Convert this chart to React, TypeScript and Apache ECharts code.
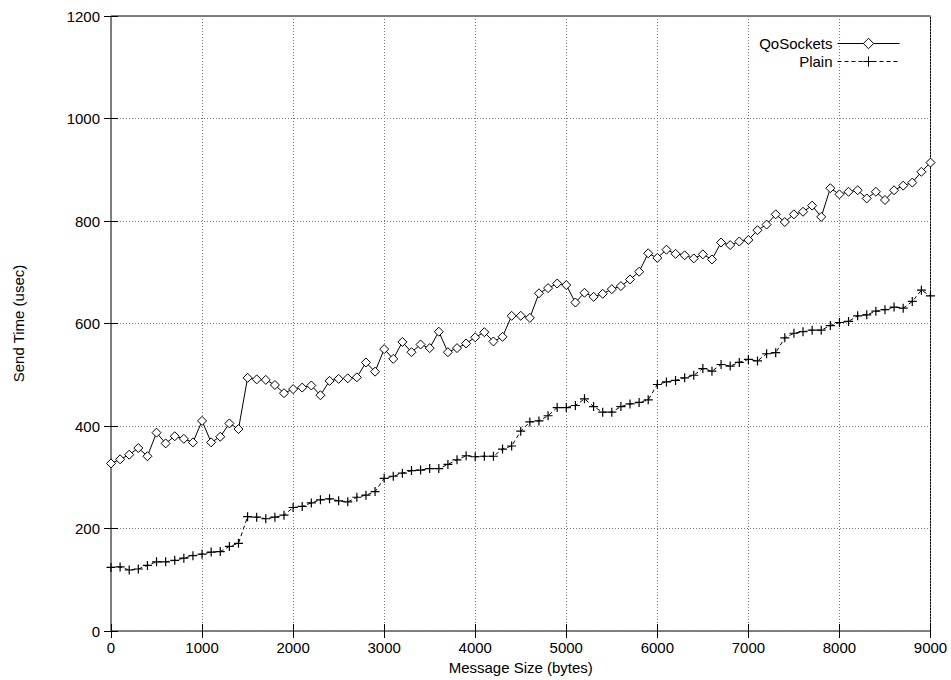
import React, { useEffect, useRef } from "react";
import * as echarts from "echarts";

const sizes = [
  0, 100, 200, 300, 400, 500, 600, 700, 800, 900,
  1000, 1100, 1200, 1300, 1400, 1500, 1600, 1700, 1800, 1900,
  2000, 2100, 2200, 2300, 2400, 2500, 2600, 2700, 2800, 2900,
  3000, 3100, 3200, 3300, 3400, 3500, 3600, 3700, 3800, 3900,
  4000, 4100, 4200, 4300, 4400, 4500, 4600, 4700, 4800, 4900,
  5000, 5100, 5200, 5300, 5400, 5500, 5600, 5700, 5800, 5900,
  6000, 6100, 6200, 6300, 6400, 6500, 6600, 6700, 6800, 6900,
  7000, 7100, 7200, 7300, 7400, 7500, 7600, 7700, 7800, 7900,
  8000, 8100, 8200, 8300, 8400, 8500, 8600, 8700, 8800, 8900,
  9000,
];

const qosockets = [
  327, 335, 344, 357, 341, 387, 366, 380, 375, 368,
  410, 368, 379, 405, 394, 494, 491, 490, 480, 464,
  472, 475, 479, 460, 488, 492, 493, 495, 524, 506,
  550, 531, 564, 544, 559, 552, 584, 544, 552, 561,
  573, 583, 565, 574, 615, 615, 611, 659, 669, 678,
  675, 641, 660, 652, 658, 667, 673, 686, 701, 737,
  728, 744, 736, 733, 727, 735, 725, 758, 753, 760,
  763, 782, 793, 813, 798, 813, 818, 830, 808, 864,
  852, 857, 860, 844, 857, 841, 860, 869, 875, 896,
  914,
];

const plain = [
  124, 125, 119, 121, 128, 135, 135, 138, 142, 147,
  150, 154, 155, 165, 171, 223, 222, 219, 222, 226,
  241, 243, 250, 256, 258, 254, 252, 261, 265, 272,
  298, 302, 308, 313, 314, 317, 317, 325, 334, 342,
  340, 341, 341, 355, 361, 390, 408, 410, 420, 436,
  436, 440, 453, 438, 427, 427, 438, 443, 446, 451,
  481, 486, 489, 494, 499, 512, 507, 520, 517, 524,
  530, 527, 541, 543, 572, 581, 584, 587, 587, 596,
  602, 604, 615, 617, 624, 627, 632, 630, 643, 665,
  654,
];

const FONT = "'Liberation Sans', Arial, Helvetica, sans-serif";
const FS = 15;
const PLUS = "path://M0,5L10,5M5,0L5,10";
const DIAMOND = "path://M5,0L10,5L5,10L0,5Z";

export default function App() {
  const ref = useRef<HTMLDivElement>(null);
  useEffect(() => {
    if (!ref.current) return;
    const chart = echarts.init(ref.current, null, { renderer: "svg" });
    const gridLine = { show: true, lineStyle: { color: "#777", type: [1, 2] as any, width: 1 } };
    const tick = { show: true, inside: true, length: 7, lineStyle: { color: "#000" } };
    const fmt = (v: number) => String(v);
    const legendBase = {
      right: 46,
      align: "right",
      itemWidth: 62,
      itemHeight: 13,
      itemGap: 0,
      lineStyle: { width: 1 },
      itemStyle: { borderWidth: 1 },
      textStyle: { fontFamily: FONT, fontSize: FS, color: "#000" },
    };
    chart.setOption({
      animation: false,
      backgroundColor: "#fff",
      textStyle: { fontFamily: FONT },
      grid: {
        left: 111,
        right: 20.5,
        top: 16,
        bottom: 49,
        show: true,
        borderColor: "#000",
        borderWidth: 1,
        backgroundColor: "transparent",
      },
      legend: [
        { ...legendBase, data: ["QoSockets"], top: 31 },
        { ...legendBase, data: ["Plain"], top: 49 },
      ],
      xAxis: [
        {
          type: "value",
          min: 0,
          max: 9000,
          interval: 1000,
          name: "Message Size (bytes)",
          nameLocation: "middle",
          nameGap: 25,
          nameTextStyle: { fontFamily: FONT, fontSize: FS, color: "#000" },
          axisLine: { show: false },
          axisTick: tick,
          axisLabel: { fontFamily: FONT, fontSize: FS, color: "#000", margin: 9, formatter: fmt },
          splitLine: gridLine,
        },
        {
          type: "value",
          position: "top",
          min: 0,
          max: 9000,
          interval: 1000,
          axisLine: { show: false },
          axisTick: tick,
          axisLabel: { show: false },
          splitLine: { show: false },
        },
      ],
      yAxis: [
        {
          type: "value",
          min: 0,
          max: 1200,
          interval: 200,
          name: "Send Time (usec)",
          nameLocation: "middle",
          nameGap: 85,
          nameTextStyle: { fontFamily: FONT, fontSize: FS, color: "#000" },
          axisLine: { show: false },
          axisTick: tick,
          axisLabel: { fontFamily: FONT, fontSize: FS, color: "#000", margin: 11, formatter: fmt },
          splitLine: gridLine,
        },
        {
          type: "value",
          position: "right",
          min: 0,
          max: 1200,
          interval: 200,
          axisLine: { show: false },
          axisTick: tick,
          axisLabel: { show: false },
          splitLine: { show: false },
        },
      ],
      series: [
        {
          name: "QoSockets",
          type: "line",
          data: sizes.map((s, i) => [s, qosockets[i]]),
          symbol: DIAMOND,
          symbolSize: 9,
          itemStyle: { color: "#fff", borderColor: "#000", borderWidth: 1 },
          lineStyle: { color: "#000", width: 1 },
          z: 3,
        },
        {
          name: "Plain",
          type: "line",
          data: sizes.map((s, i) => [s, plain[i]]),
          symbol: PLUS,
          symbolSize: 9,
          itemStyle: { color: "transparent", borderColor: "#000", borderWidth: 1.2 },
          lineStyle: { color: "#000", width: 1, type: [4, 3] },
          z: 3,
        },
      ],
    });
    return () => chart.dispose();
  }, []);
  return (
    <div
      ref={ref}
      style={{ position: "fixed", left: 0, top: 0, width: 951, height: 680 }}
    />
  );
}
